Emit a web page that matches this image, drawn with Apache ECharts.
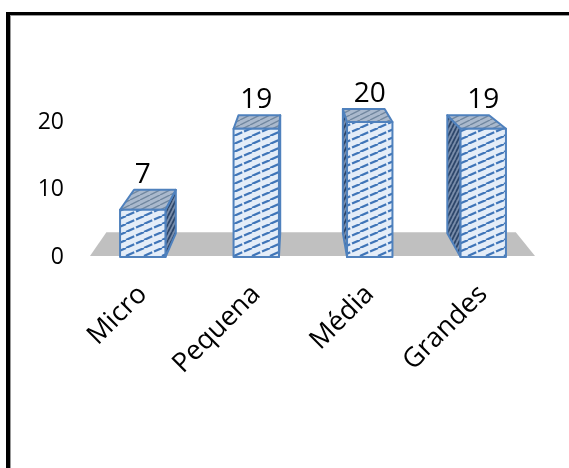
<!DOCTYPE html>
<html><head><meta charset="utf-8">
<script src="https://cdn.jsdelivr.net/npm/echarts/dist/echarts.min.js"></script>
<style>
html,body{margin:0;padding:0;background:#fff;overflow:hidden}
#chart{position:absolute;left:0;top:0;width:569px;height:468px}
#frame{position:absolute;left:6px;top:12px;width:700px;height:600px;border-top:3px solid #000;border-left:4px solid #000;box-shadow:inset 1px 1px 0 #999;pointer-events:none}
</style>
</head><body>
<div id="chart"></div>
<div id="frame"></div>
<script>
const categories = ['Micro', 'Pequena', 'Média', 'Grandes'];
const values = [7, 19, 20, 19];
const yMin = 0, yMax = 20, yInterval = 10;

function makePattern(bg, line, w, h, lw, dash) {
  const c = document.createElement('canvas');
  c.width = w; c.height = h;
  const g = c.getContext('2d');
  g.fillStyle = bg; g.fillRect(0, 0, w, h);
  g.strokeStyle = line; g.lineWidth = lw;
  if (dash) g.setLineDash(dash);
  for (const ox of [-w, 0, w]) {
    g.beginPath(); g.moveTo(ox, h); g.lineTo(ox + w, 0); g.stroke();
  }
  return c;
}
const frontPat = { image: makePattern('#e4edf8', '#3f75b8', 18, 8, 2.2, [9, 2]), repeat: 'repeat' };
const sidePat = { image: makePattern('#7a8eab', '#2c466a', 4, 8, 1.8), repeat: 'repeat' };
const topPat = { image: makePattern('#aab9cd', '#71879f', 10, 5, 1.4), repeat: 'repeat' };
const EDGE = '#4f81bd';
const K = 0.08;

function vp(cs) { return [cs.x + cs.width * 0.46, cs.y - 162]; }
function back(p, V) { return [p[0] + K * (V[0] - p[0]), p[1] + K * (V[1] - p[1])]; }
function poly(points, fill) {
  return { type: 'polygon', shape: { points }, style: { fill, stroke: EDGE, lineWidth: 2, lineJoin: 'round' } };
}

function renderFloor(params, api) {
  const cs = params.coordSys;
  const V = vp(cs);
  const y0 = api.coord([0, 0])[1] - 1;
  const bl = [cs.x + 4, y0], br = [cs.x + cs.width - 5, y0];
  return { type: 'polygon', shape: { points: [bl, br, back(br, V), back(bl, V)] }, style: { fill: '#c0c0c0' } };
}

function renderBar(params, api) {
  const cs = params.coordSys;
  const V = vp(cs);
  const idx = api.value(0), val = api.value(1);
  const base = api.coord([idx, 0]), top = api.coord([idx, val]);
  const bw = api.size([1, 0])[0] * 0.4;
  const xl = base[0] - bw / 2, xr = base[0] + bw / 2, yb = base[1], yt = top[1];
  const fTL = [xl, yt], fTR = [xr, yt], fBL = [xl, yb], fBR = [xr, yb];
  const bTL = back(fTL, V), bTR = back(fTR, V), bBL = back(fBL, V), bBR = back(fBR, V);
  const children = [];
  if (xr < V[0]) children.push(poly([fTR, bTR, bBR, fBR], sidePat));
  else if (xl > V[0]) children.push(poly([fTL, bTL, bBL, fBL], sidePat));
  children.push(poly([fTL, fTR, bTR, bTL], topPat));
  children.push(poly([fTL, fTR, fBR, fBL], frontPat));
  children.push({ type: 'text', style: { text: String(val), x: base[0], y: Math.min(bTL[1], bTR[1]) - 1, align: 'center', verticalAlign: 'bottom', font: '28px "Open Sans"', fill: '#000' } });
  return { type: 'group', children };
}

const chart = echarts.init(document.getElementById('chart'), null, { renderer: 'canvas' });
chart.setOption({
  animation: false,
  backgroundColor: '#fff',
  grid: { left: 86, right: 29, top: 122, bottom: 211, containLabel: false, outerBoundsMode: 'none' },
  xAxis: {
    type: 'category', data: categories,
    axisLine: { show: false }, axisTick: { show: false }, splitLine: { show: false },
    axisLabel: { rotate: 45, margin: 33, fontSize: 27, fontFamily: 'Open Sans', color: '#000', interval: 0 }
  },
  yAxis: {
    type: 'value', min: yMin, max: yMax, interval: yInterval,
    axisLine: { show: false }, axisTick: { show: false }, splitLine: { show: false },
    axisLabel: { margin: 22, fontSize: 23, fontFamily: 'Open Sans', color: '#000' }
  },
  series: [
    { type: 'custom', renderItem: renderFloor, data: [[0, 0]], z: 1, silent: true },
    { type: 'custom', renderItem: renderBar, data: values.map((v, i) => [i, v]), encode: { x: 0, y: 1 }, z: 2 }
  ]
});
</script>
</body></html>
